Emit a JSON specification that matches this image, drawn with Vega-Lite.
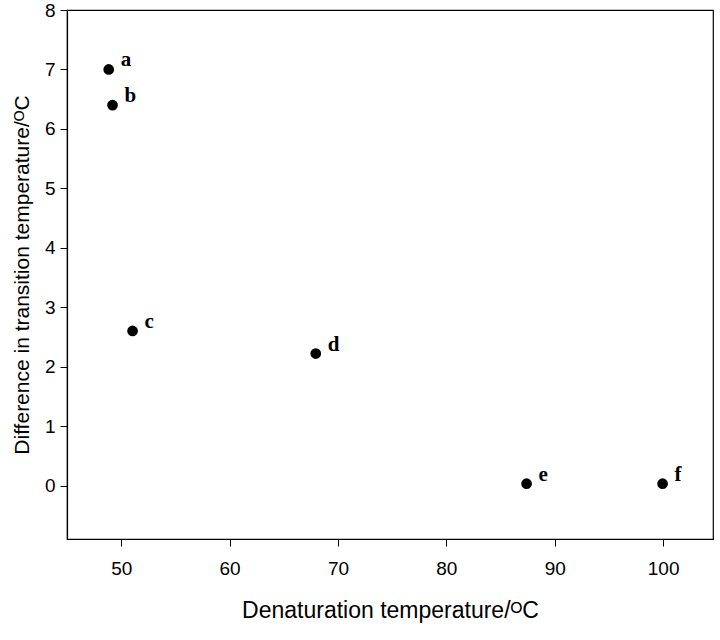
{
  "$schema": "https://vega.github.io/schema/vega-lite/v6.json",
  "autosize": "none",
  "width": 646,
  "height": 529,
  "padding": {"left": 67, "top": 10, "right": 7, "bottom": 101},
  "background": "white",
  "config": {
    "view": {"stroke": "black", "strokeWidth": 1.2},
    "axis": {
      "grid": false,
      "domainColor": "black",
      "tickColor": "black",
      "labelColor": "black",
      "titleColor": "black",
      "labelFont": "Liberation Sans",
      "titleFont": "Liberation Sans",
      "labelFontSize": 19,
      "titleFontWeight": "normal",
      "tickSize": 7,
      "domainWidth": 1.2,
      "tickWidth": 1
    }
  },
  "data": {
    "values": [
      {"x": 48.85, "y": 7.0, "label": "a"},
      {"x": 49.2, "y": 6.4, "label": "b"},
      {"x": 51.05, "y": 2.6, "label": "c"},
      {"x": 67.95, "y": 2.22, "label": "d"},
      {"x": 87.4, "y": 0.03, "label": "e"},
      {"x": 99.95, "y": 0.03, "label": "f"}
    ]
  },
  "encoding": {
    "x": {
      "field": "x",
      "type": "quantitative",
      "scale": {"domain": [45, 104.6], "nice": false, "zero": false},
      "axis": {"values": [50, 60, 70, 80, 90, 100], "title": "Denaturation temperature/ᴼC", "titleFontSize": 23, "labelPadding": 13, "titlePadding": 21}
    },
    "y": {
      "field": "y",
      "type": "quantitative",
      "scale": {"domain": [-0.9, 8], "nice": false, "zero": false},
      "axis": {"values": [0, 1, 2, 3, 4, 5, 6, 7, 8], "title": "Difference in transition temperature/ᴼC", "titleFontSize": 21, "labelPadding": 5, "titlePadding": 12}
    }
  },
  "layer": [
    {"mark": {"type": "point", "shape": "circle", "filled": true, "color": "black", "opacity": 1, "size": 115}},
    {
      "mark": {"type": "text", "align": "left", "baseline": "middle", "dx": 12, "dy": -9, "font": "Liberation Serif", "fontWeight": "bold", "fontSize": 21, "color": "black"},
      "encoding": {"text": {"field": "label"}}
    }
  ]
}
